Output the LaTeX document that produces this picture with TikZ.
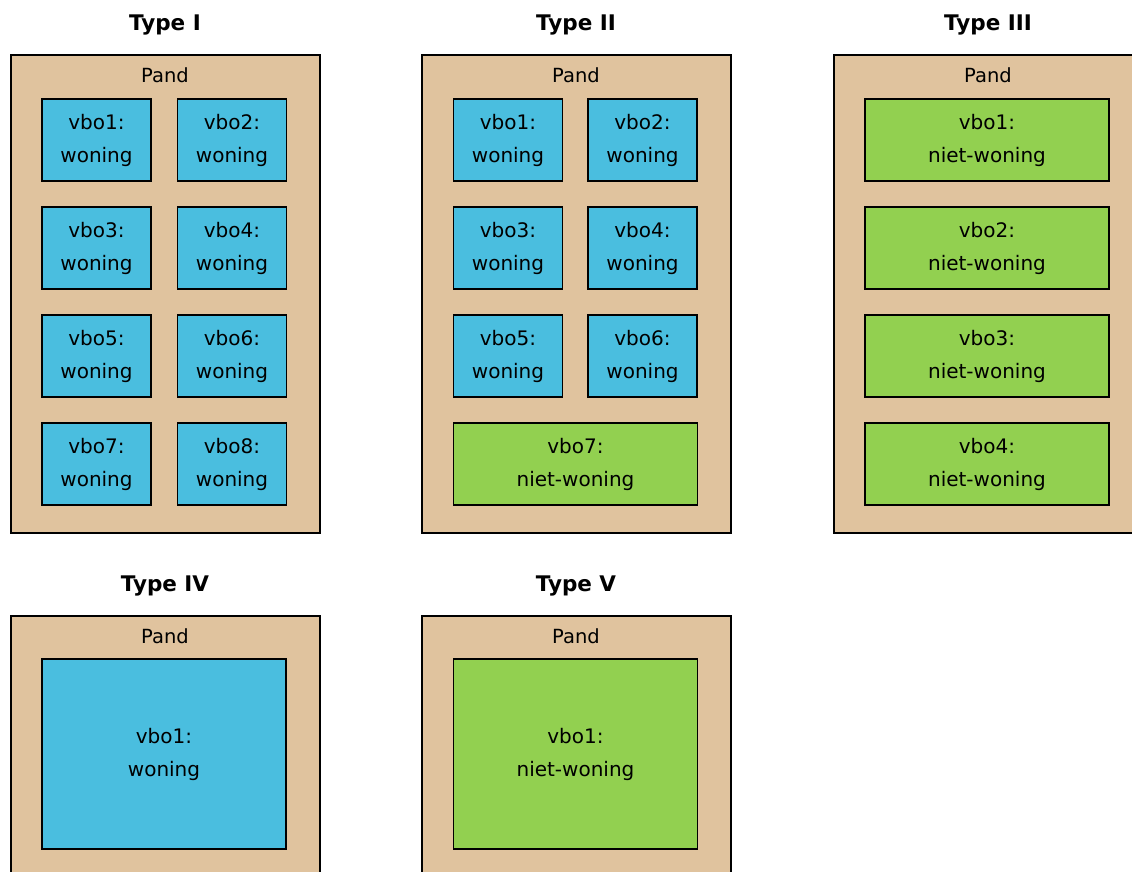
\documentclass[tikz,border=0pt]{standalone}
\usepackage{fontspec}
\setmainfont{DejaVu Sans}
\definecolor{pandc}{RGB}{224,195,158}
\definecolor{wonc}{RGB}{74,190,223}
\definecolor{nwc}{RGB}{146,208,80}
\tikzset{
  pandbox/.style={draw=black, fill=pandc, line width=1.8pt, minimum width=309pt, minimum height=478pt, anchor=north west, inner sep=0pt},
  vbo/.style={draw=black, line width=1.8pt, inner sep=0pt, align=center, font=\fontsize{20}{33}\selectfont, minimum height=82pt},
  small/.style={vbo, fill=wonc, minimum width=109pt},
  wide/.style={vbo, fill=nwc, minimum width=244pt},
  big/.style={vbo, minimum width=244pt, minimum height=190pt},
  pandlbl/.style={font=\fontsize{19.5}{22}\selectfont, inner sep=0pt},
  title/.style={font=\bfseries\fontsize{21.5}{24}\selectfont, inner sep=0pt}
}
\begin{document}
\begin{tikzpicture}[x=1pt,y=-1pt]
\clip (0,0) rectangle (1132,871);
\fill[white] (0,0) rectangle (1132,871);
% titles
\node[title] (t1) at (165,25) {Type I};
\node[title] (t2) at (576,25) {Type II};
\node[title] (t3) at (988,25) {Type III};
\node[title] (t4) at (165,586) {Type IV};
\node[title] (t5) at (576,586) {Type V};
% pand boxes
\node[pandbox] (p1) at (10,54) {};
\node[pandbox] (p2) at (421,54) {};
\node[pandbox] (p3) at (833,54) {};
\node[pandbox] (p4) at (10,615) {};
\node[pandbox] (p5) at (421,615) {};
\node[pandlbl] (l1) at (165,75) {Pand};
\node[pandlbl] (l2) at (576,75) {Pand};
\node[pandlbl] (l3) at (988,75) {Pand};
\node[pandlbl] (l4) at (165,636) {Pand};
\node[pandlbl] (l5) at (576,636) {Pand};
% Type I
\node[small] (a1) at (96.5,140) {vbo1:\\woning};
\node[small] (a2) at (232,140) {vbo2:\\woning};
\node[small] (a3) at (96.5,248) {vbo3:\\woning};
\node[small] (a4) at (232,248) {vbo4:\\woning};
\node[small] (a5) at (96.5,356) {vbo5:\\woning};
\node[small] (a6) at (232,356) {vbo6:\\woning};
\node[small] (a7) at (96.5,464) {vbo7:\\woning};
\node[small] (a8) at (232,464) {vbo8:\\woning};
% Type II
\node[small] (b1) at (508,140) {vbo1:\\woning};
\node[small] (b2) at (642.5,140) {vbo2:\\woning};
\node[small] (b3) at (508,248) {vbo3:\\woning};
\node[small] (b4) at (642.5,248) {vbo4:\\woning};
\node[small] (b5) at (508,356) {vbo5:\\woning};
\node[small] (b6) at (642.5,356) {vbo6:\\woning};
\node[wide] (b7) at (575.5,464) {vbo7:\\niet-woning};
% Type III
\node[wide] (c1) at (987,140) {vbo1:\\niet-woning};
\node[wide] (c2) at (987,248) {vbo2:\\niet-woning};
\node[wide] (c3) at (987,356) {vbo3:\\niet-woning};
\node[wide] (c4) at (987,464) {vbo4:\\niet-woning};
% Type IV and V
\node[big, fill=wonc] (d1) at (164,754) {vbo1:\\woning};
\node[big, fill=nwc] (e1) at (575.5,754) {vbo1:\\niet-woning};
\end{tikzpicture}
\end{document}
